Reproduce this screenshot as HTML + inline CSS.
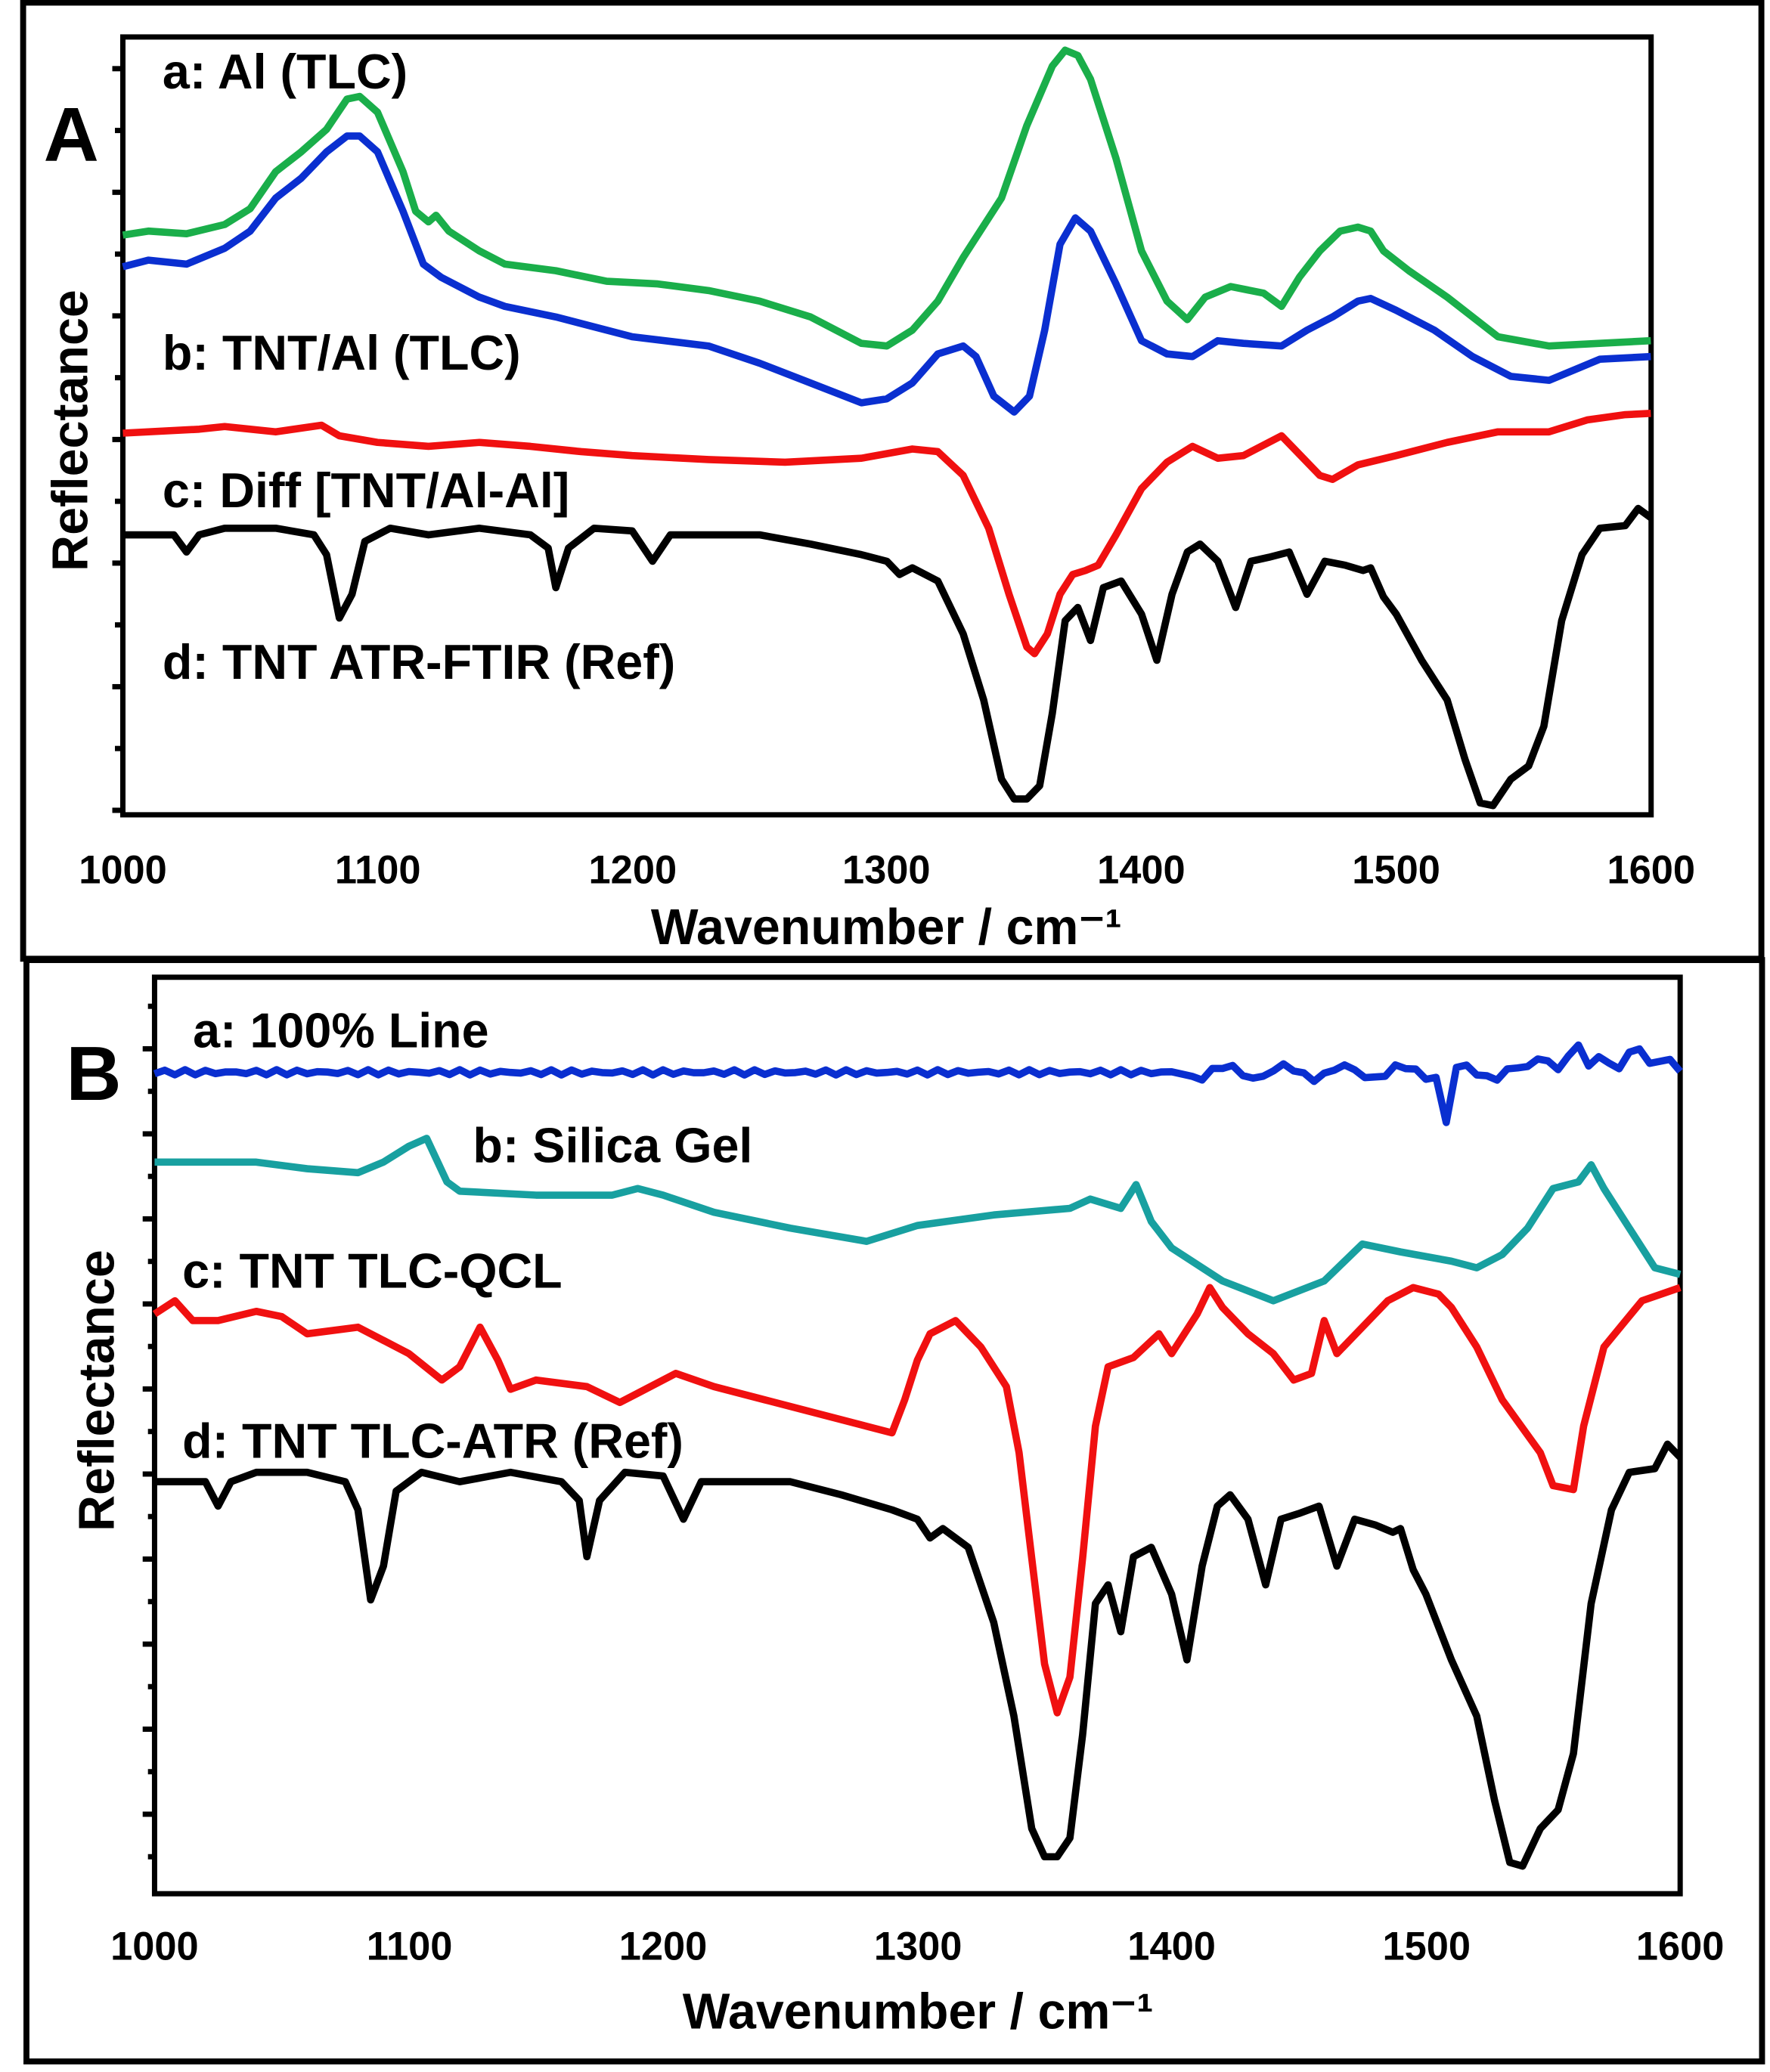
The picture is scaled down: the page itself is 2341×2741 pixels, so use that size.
<!DOCTYPE html>
<html><head><meta charset="utf-8"><style>
html,body{margin:0;padding:0;background:#fff;}
svg{display:block;}
text{font-family:"Liberation Sans",Arial,sans-serif;font-weight:bold;fill:#000;}
</style></head><body>
<svg id="s" width="2341" height="2741" viewBox="0 0 1340 1569" xmlns="http://www.w3.org/2000/svg">
<rect x="0" y="0" width="1340" height="1569" fill="#fff"/>
<rect x="17.5" y="2" width="1316" height="724" fill="none" stroke="#000" stroke-width="4.5"/>
<rect x="20" y="727" width="1314" height="834" fill="none" stroke="#000" stroke-width="4.5"/>
<rect x="93" y="28" width="1157" height="589" fill="none" stroke="#000" stroke-width="4"/>
<rect x="117" y="740" width="1155" height="694" fill="none" stroke="#000" stroke-width="4"/>
<g id="ticks" stroke="#000" stroke-width="4"></g>
<g id="lines" fill="none" stroke-width="5.5" stroke-linejoin="round"></g>
<text x="33" y="122" font-size="58">A</text>
<text x="50" y="833" font-size="58">B</text>
<text transform="translate(66,326) rotate(-90)" font-size="38" text-anchor="middle">Reflectance</text>
<text transform="translate(86,1053) rotate(-90)" font-size="38" text-anchor="middle">Reflectance</text>
<text x="123" y="67" font-size="37">a: Al (TLC)</text>
<text x="123" y="280" font-size="37">b: TNT/Al (TLC)</text>
<text x="123" y="384" font-size="37">c: Diff [TNT/Al-Al]</text>
<text x="123" y="514" font-size="37">d: TNT ATR-FTIR (Ref)</text>
<text x="146" y="793" font-size="37">a: 100% Line</text>
<text x="358" y="880" font-size="37">b: Silica Gel</text>
<text x="138" y="975" font-size="37">c: TNT TLC-QCL</text>
<text x="138" y="1104" font-size="37">d: TNT TLC-ATR (Ref)</text>
<g font-size="30" text-anchor="middle">
<text x="93" y="669">1000</text><text x="286" y="669">1100</text><text x="479" y="669">1200</text><text x="671" y="669">1300</text><text x="864" y="669">1400</text><text x="1057" y="669">1500</text><text x="1250" y="669">1600</text>
<text x="117" y="1484">1000</text><text x="310" y="1484">1100</text><text x="502" y="1484">1200</text><text x="695" y="1484">1300</text><text x="887" y="1484">1400</text><text x="1080" y="1484">1500</text><text x="1272" y="1484">1600</text>
</g>
<text x="671" y="715" font-size="38" text-anchor="middle">Wavenumber / cm⁻¹</text>
<text x="695" y="1536" font-size="38" text-anchor="middle">Wavenumber / cm⁻¹</text>
</svg>
<script>
const NS="http://www.w3.org/2000/svg";
const T=document.getElementById('ticks'),L=document.getElementById('lines');
function ln(x1,y1,x2,y2){const e=document.createElementNS(NS,'line');e.setAttribute('x1',x1);e.setAttribute('y1',y1);e.setAttribute('x2',x2);e.setAttribute('y2',y2);T.appendChild(e);}
for(let i=0;i<13;i++){const y=52+i*46.8;if(y>617)break;ln(i%2?87:85,y,93,y);}
for(let i=0;;i++){const y=762+i*32.2;if(y>1434)break;ln(i%2?108:112,y,117,y);}
function P(arr,x0,s,col,f){const p=[];for(let i=0;i<arr.length;i+=2){let y=arr[i+1];if(f)y=f(y);p.push((x0+(arr[i]-1000)*s).toFixed(1)+','+y.toFixed(1));}
const e=document.createElementNS(NS,'polyline');e.setAttribute('points',p.join(' '));e.setAttribute('stroke',col);L.appendChild(e);}
const ax=93,as=1.928,bx=117,bs=1.925;
const green=[1000,178,1010,175,1025,177,1040,170,1050,158,1060,130,1070,115,1080,98,1088,75,1093,73,1100,85,1110,130,1115,160,1120,168,1123,163,1128,175,1140,190,1150,200,1170,205,1190,213,1210,215,1230,220,1250,228,1270,240,1290,260,1300,262,1310,250,1320,228,1330,195,1345,150,1355,95,1365,50,1370,38,1375,42,1380,60,1390,120,1400,190,1410,228,1418,242,1425,225,1435,217,1448,222,1455,232,1462,210,1470,190,1478,175,1485,172,1490,175,1495,190,1505,205,1520,225,1540,255,1560,262,1580,260,1600,258];
const blue=[1000,202,1010,197,1025,200,1040,188,1050,175,1060,150,1070,135,1080,115,1088,103,1093,103,1100,115,1110,160,1118,200,1125,210,1140,225,1150,232,1170,240,1200,255,1230,262,1250,275,1270,290,1290,305,1300,302,1310,290,1320,268,1330,262,1335,270,1342,300,1350,312,1356,300,1362,250,1368,185,1374,165,1380,175,1390,215,1400,258,1410,268,1420,270,1430,258,1440,260,1455,262,1465,250,1475,240,1485,228,1490,226,1500,235,1515,250,1530,270,1545,285,1560,288,1570,280,1580,272,1600,270];
const red=[1000,328,1030,325,1040,323,1060,327,1078,322,1085,330,1100,335,1120,338,1140,335,1160,338,1180,342,1200,345,1230,348,1260,350,1290,347,1310,340,1320,342,1330,360,1340,400,1348,450,1355,490,1358,495,1363,480,1368,450,1373,435,1378,432,1383,428,1390,405,1400,370,1410,350,1420,338,1430,347,1440,345,1455,330,1460,340,1470,360,1475,363,1485,352,1500,345,1520,335,1540,327,1560,327,1575,318,1590,314,1600,313];
const blk=[1000,405,1020,405,1025,418,1030,405,1040,400,1060,400,1075,405,1080,420,1085,468,1090,450,1095,410,1105,400,1120,405,1140,400,1160,405,1167,415,1170,445,1175,415,1185,400,1200,402,1208,425,1215,405,1230,405,1250,405,1270,412,1290,420,1300,425,1305,435,1310,430,1320,440,1330,480,1338,530,1345,590,1350,605,1355,605,1360,595,1365,540,1370,470,1375,460,1380,485,1385,445,1392,440,1400,465,1406,500,1412,450,1418,418,1423,412,1430,425,1437,460,1443,425,1450,422,1458,418,1465,450,1472,425,1480,428,1487,432,1490,430,1495,452,1500,465,1510,500,1520,530,1527,575,1533,608,1538,610,1545,590,1552,580,1558,550,1565,470,1573,420,1580,400,1590,398,1595,385,1600,392];
P(green,ax,as,'#1aae4a');P(blue,ax,as,'#0a2fd0');P(red,ax,as,'#f01010');P(blk,ax,as,'#000');
const ba=[];for(let w=1000;w<=1600;w+=4){let y=812+Math.sin(w*0.7)*2;if(w>1400)y+=Math.sin(w*1.3)*5;if(w>1540)y-=10+Math.sin(w*2.1)*6;ba.push(w,y);}
const idx=ba.indexOf(1508);if(idx>=0)ba[idx+1]=850;
const teal=[1000,880,1040,880,1060,885,1080,888,1090,880,1100,868,1107,862,1115,895,1120,902,1150,905,1180,905,1190,900,1200,905,1220,918,1250,930,1280,940,1300,928,1330,920,1360,915,1368,908,1380,915,1386,897,1392,925,1400,945,1420,970,1440,985,1460,970,1475,942,1490,948,1510,955,1520,960,1530,950,1540,930,1550,900,1560,895,1565,882,1570,900,1580,930,1590,960,1600,965];
const rb=[1000,995,1008,985,1015,1000,1025,1000,1040,993,1050,997,1060,1010,1080,1005,1090,1015,1100,1025,1113,1045,1120,1035,1128,1005,1135,1030,1140,1052,1150,1045,1170,1050,1183,1062,1190,1055,1205,1040,1220,1050,1240,1060,1260,1070,1280,1080,1290,1085,1295,1060,1300,1030,1305,1010,1315,1000,1325,1020,1335,1050,1340,1100,1345,1180,1350,1260,1355,1297,1360,1270,1365,1180,1370,1080,1375,1035,1385,1028,1395,1010,1400,1025,1410,995,1415,975,1420,990,1430,1010,1440,1025,1448,1045,1455,1040,1460,1000,1465,1025,1475,1005,1485,985,1495,975,1505,980,1510,990,1520,1020,1530,1060,1545,1100,1550,1125,1558,1128,1562,1080,1570,1020,1585,985,1600,975];
P(ba,bx,bs,'#0a2fd0');P(teal,bx,bs,'#18a0a0');P(rb,bx,bs,'#f01010');P(blk,bx,bs,'#000',y=>1122+(y-405)*1.42);
</script>
</body></html>
